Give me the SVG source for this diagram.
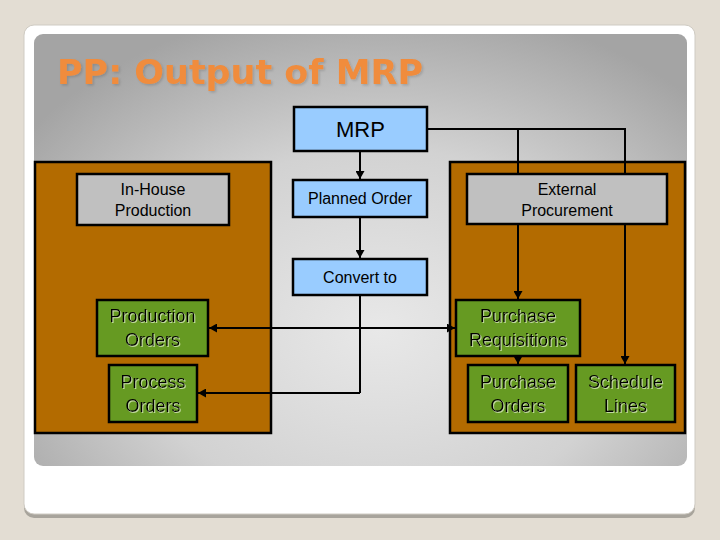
<svg xmlns="http://www.w3.org/2000/svg" width="720" height="540" viewBox="0 0 720 540">
<style>
.t{font-family:"Liberation Sans",Arial,sans-serif;fill:#000;text-anchor:middle}
.panel{fill:#b36b00;stroke:#000;stroke-width:2.5}
.blue{fill:#99ccff;stroke:#000;stroke-width:2.5}
.gray{fill:#c0c0c0;stroke:#000;stroke-width:2.5}
.green{fill:#669a22;stroke:#000;stroke-width:2.5}
.c{fill:none;stroke:#000;stroke-width:2}
.g{filter:url(#emb)}
</style>
<defs>
<radialGradient id="bg" gradientUnits="userSpaceOnUse" cx="380" cy="330" r="440" gradientTransform="translate(380 330) scale(1 0.75) translate(-380 -330)">
<stop offset="0" stop-color="#e8e8e8"/>
<stop offset="0.55" stop-color="#d2d2d2"/>
<stop offset="1" stop-color="#a4a4a4"/>
</radialGradient>
<marker id="ah" viewBox="0 0 10 10" refX="10" refY="5" markerWidth="8" markerHeight="9" orient="auto-start-reverse" markerUnits="userSpaceOnUse" preserveAspectRatio="none">
<path d="M0,0 L10,5 L0,10 z" fill="#000"/>
</marker>
<filter id="emb" x="-10%" y="-10%" width="120%" height="130%">
<feDropShadow dx="1" dy="1" stdDeviation="0.3" flood-color="#d8e8c0" flood-opacity="0.8"/>
</filter>
<filter id="tsh" x="-5%" y="-10%" width="110%" height="130%">
<feDropShadow dx="1.5" dy="1.5" stdDeviation="1" flood-color="#000" flood-opacity="0.15"/>
</filter>
</defs>
<rect x="0" y="0" width="720" height="540" fill="#e3ddd3"/>
<rect x="24" y="27" width="671" height="491" rx="10" fill="#a8a49c"/>
<rect x="24" y="25" width="671" height="489" rx="10" fill="#ffffff" stroke="#cfcbc3" stroke-width="1"/>
<rect x="34" y="34" width="653" height="432" rx="9" fill="url(#bg)"/>
<text x="57" y="84" font-family="'DejaVu Sans',Verdana,sans-serif" font-weight="bold" font-size="33" fill="#f08c3c" filter="url(#tsh)" textLength="366" lengthAdjust="spacingAndGlyphs">PP: Output of MRP</text>

<g id="left-panel"><rect class="panel" x="35" y="162" width="236" height="271"/></g>
<g id="right-panel"><rect class="panel" x="450" y="162" width="235" height="271"/></g>

<g id="mrp"><rect class="blue" x="294" y="107" width="133" height="44"/><text class="t" x="360.5" y="137" font-size="22">MRP</text></g>
<g id="planned-order"><rect class="blue" x="293" y="180" width="134" height="37"/><text class="t" x="360" y="204" font-size="16">Planned Order</text></g>
<g id="convert-to"><rect class="blue" x="293" y="259" width="134" height="36"/><text class="t" x="360" y="283" font-size="16">Convert to</text></g>
<g id="in-house"><rect class="gray" x="77" y="174" width="152" height="51"/><text class="t" x="153" y="195" font-size="16">In-House</text><text class="t" x="153" y="216" font-size="16">Production</text></g>
<g id="external"><rect class="gray" x="467" y="174" width="200" height="50"/><text class="t" x="567" y="195" font-size="16">External</text><text class="t" x="567" y="216" font-size="16">Procurement</text></g>
<g id="production-orders"><rect class="green" x="97" y="300" width="111" height="56"/><text class="t g" x="152.5" y="322" font-size="18">Production</text><text class="t g" x="152.5" y="346" font-size="18">Orders</text></g>
<g id="process-orders"><rect class="green" x="109" y="365" width="88" height="57"/><text class="t g" x="153" y="388" font-size="18">Process</text><text class="t g" x="153" y="412" font-size="18">Orders</text></g>
<g id="purchase-req"><rect class="green" x="456" y="300" width="124" height="56"/><text class="t g" x="518" y="322" font-size="18">Purchase</text><text class="t g" x="518" y="346" font-size="18">Requisitions</text></g>
<g id="purchase-orders"><rect class="green" x="468" y="365" width="100" height="57"/><text class="t g" x="518" y="388" font-size="18">Purchase</text><text class="t g" x="518" y="412" font-size="18">Orders</text></g>
<g id="schedule-lines"><rect class="green" x="576" y="365" width="99" height="57"/><text class="t g" x="625.5" y="388" font-size="18">Schedule</text><text class="t g" x="625.5" y="412" font-size="18">Lines</text></g>

<g id="connectors">
<path class="c" d="M360,152 V179" marker-end="url(#ah)"/>
<path class="c" d="M360,218 V258" marker-end="url(#ah)"/>
<path class="c" d="M360,296 V393"/>
<path class="c" d="M209,328 H455" marker-start="url(#ah)" marker-end="url(#ah)"/>
<path class="c" d="M360,393 H198" marker-end="url(#ah)"/>
<path class="c" d="M428,129 H625 V173"/>
<path class="c" d="M518,129 V173"/>
<path class="c" d="M518,225 V299" marker-end="url(#ah)"/>
<path class="c" d="M518,357 V364" marker-end="url(#ah)"/>
<path class="c" d="M625,225 V364" marker-end="url(#ah)"/>
</g>
</svg>
